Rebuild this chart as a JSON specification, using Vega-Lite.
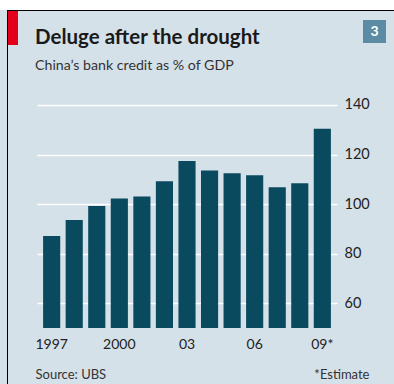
{
  "$schema": "https://vega.github.io/schema/vega-lite/v6.json",
  "width": 300,
  "height": 228,
  "autosize": "none",
  "padding": {"left": 37, "top": 100, "right": 57, "bottom": 56},
  "background": "#d5e1e9",
  "config": {
    "view": {"stroke": null},
    "font": "Lato"
  },
  "title": {
    "text": "Deluge after the drought",
    "subtitle": "China’s bank credit as % of GDP",
    "anchor": "start",
    "frame": "group",
    "dx": -2,
    "offset": -73,
    "font": "Lato",
    "fontSize": 20.5,
    "fontWeight": "bold",
    "color": "#1a1a1a",
    "subtitleFont": "Lato",
    "subtitleFontSize": 14.2,
    "subtitleColor": "#333333",
    "subtitlePadding": 10
  },
  "layer": [
    {
      "data": {"values": [
        {"year": "1997", "credit": 87.1},
        {"year": "1998", "credit": 93.6},
        {"year": "1999", "credit": 99.2},
        {"year": "2000", "credit": 102.3},
        {"year": "2001", "credit": 103.1},
        {"year": "2002", "credit": 109.2},
        {"year": "2003", "credit": 117.4},
        {"year": "2004", "credit": 113.6},
        {"year": "2005", "credit": 112.4},
        {"year": "2006", "credit": 111.6},
        {"year": "2007", "credit": 106.8},
        {"year": "2008", "credit": 108.4},
        {"year": "2009", "credit": 130.4}
      ]},
      "mark": {"type": "bar", "color": "#094a5f", "clip": true},
      "encoding": {
        "x": {
          "field": "year",
          "type": "ordinal",
          "scale": {"paddingInner": 0.24, "paddingOuter": 0.27},
          "axis": {
            "values": ["1997", "2000", "2003", "2006", "2009"],
            "labelExpr": "datum.value == '2009' ? '09*' : (datum.value == '1997' || datum.value == '2000') ? datum.value : substring(datum.value, 2)",
            "labelAngle": 0,
            "labelFontSize": 14,
            "labelColor": "#222222",
            "labelPadding": 9,
            "ticks": false,
            "domain": false,
            "grid": false,
            "title": "Source: UBS",
            "titleFontSize": 13,
            "titleFontWeight": "normal",
            "titleColor": "#333333",
            "titleAlign": "left",
            "titleAnchor": "start",
            "titleBaseline": "alphabetic",
            "titleX": -2,
            "titleY": 50
          }
        },
        "y": {
          "field": "credit",
          "type": "quantitative",
          "scale": {"domain": [50, 142], "nice": false, "zero": false},
          "axis": {
            "orient": "right",
            "values": [60, 80, 100, 120, 140],
            "labelFontSize": 14.5,
            "labelColor": "#222222",
            "labelPadding": 7,
            "ticks": false,
            "domain": false,
            "grid": true,
            "gridColor": "#ffffff",
            "gridWidth": 1.5,
            "gridOpacity": 1,
            "title": "*Estimate",
            "titleAngle": 0,
            "titleFontSize": 13,
            "titleFontWeight": "normal",
            "titleColor": "#333333",
            "titleAlign": "right",
            "titleBaseline": "alphabetic",
            "titleX": 32,
            "titleY": 278
          }
        }
      }
    },
    {
      "data": {"values": [{}]},
      "mark": {"type": "rect", "color": "#ffffff"},
      "encoding": {"x": {"value": -37}, "x2": {"value": 357}, "y": {"value": -100}, "y2": {"value": -90}}
    },
    {
      "data": {"values": [{}]},
      "mark": {"type": "rect", "color": "#000000"},
      "encoding": {"x": {"value": -30}, "x2": {"value": 357}, "y": {"value": -90}, "y2": {"value": -89}}
    },
    {
      "data": {"values": [{}]},
      "mark": {"type": "rect", "color": "#000000"},
      "encoding": {"x": {"value": -30}, "x2": {"value": -29}, "y": {"value": -90}, "y2": {"value": 284}}
    },
    {
      "data": {"values": [{}]},
      "mark": {"type": "rect", "color": "#e3001b"},
      "encoding": {"x": {"value": -29}, "x2": {"value": -19}, "y": {"value": -89}, "y2": {"value": -55}}
    },
    {
      "data": {"values": [{}]},
      "mark": {"type": "rect", "color": "#5b8ca3"},
      "encoding": {"x": {"value": 326}, "x2": {"value": 349}, "y": {"value": -80}, "y2": {"value": -57}}
    },
    {
      "data": {"values": [{"label": "3"}]},
      "mark": {"type": "text", "color": "#ffffff", "font": "Lato", "fontSize": 14, "fontWeight": "bold", "align": "center", "baseline": "middle"},
      "encoding": {"text": {"field": "label"}, "x": {"value": 337.5}, "y": {"value": -68.5}}
    }
  ]
}
